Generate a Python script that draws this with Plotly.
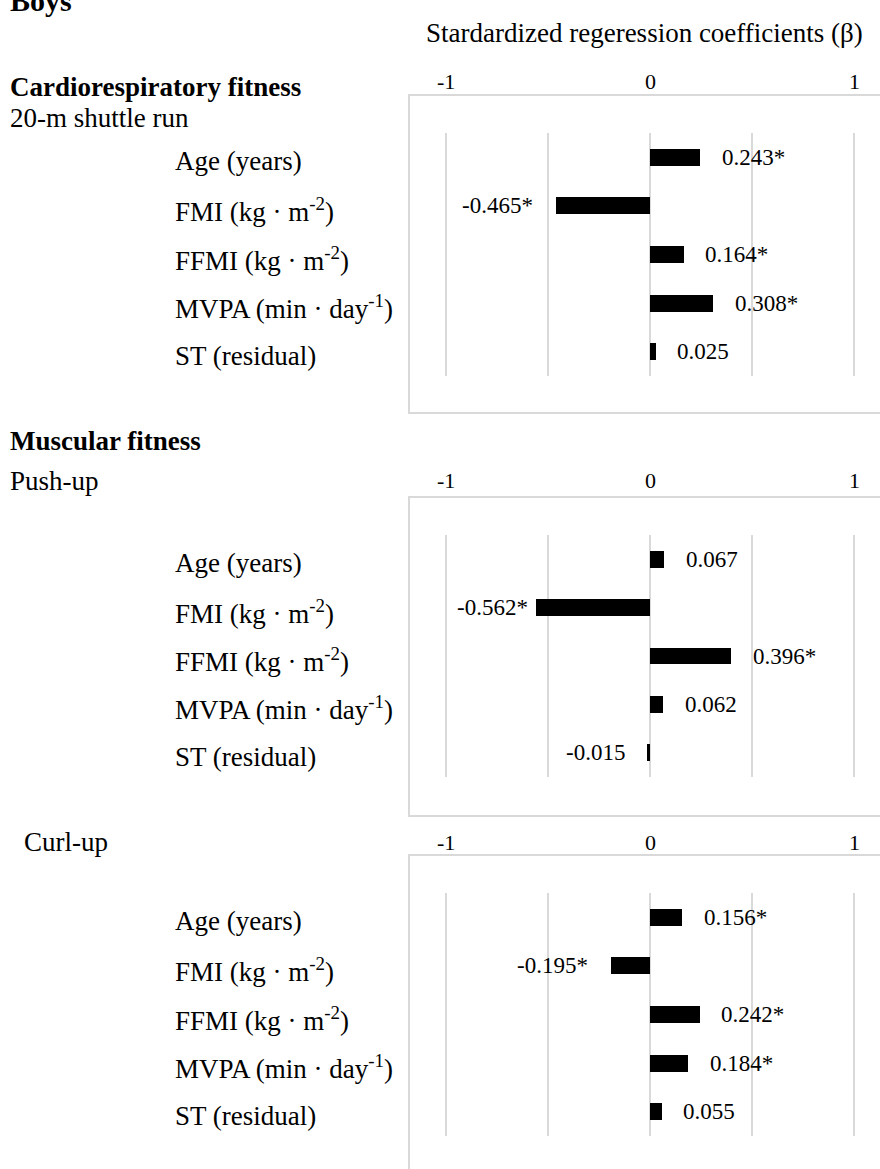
import plotly.graph_objects as go

# ---------------- data ----------------
cat_keys = ["Age", "FMI", "FFMI", "MVPA", "ST"]
cat_labels = ["Age (years)", "FMI (kg · m<sup>-2</sup>)", "FFMI (kg · m<sup>-2</sup>)",
              "MVPA (min · day<sup>-1</sup>)", "ST (residual)"]

shuttle_beta = [0.243, -0.465, 0.164, 0.308, 0.025]
shuttle_text = ["0.243*", "-0.465*", "0.164*", "0.308*", "0.025"]

pushup_beta = [0.067, -0.562, 0.396, 0.062, -0.015]
pushup_text = ["0.067", "-0.562*", "0.396*", "0.062", "-0.015"]

curlup_beta = [0.156, -0.195, 0.242, 0.184, 0.055]
curlup_text = ["0.156*", "-0.195*", "0.242*", "0.184*", "0.055"]

x_tick_vals = [-1, 0, 1]
x_tick_text = ["-1", "0", "1"]
grid_vals = [-1, -0.5, 0, 0.5, 1]

# ---------------- layout helpers ----------------
W, H = 880, 1169
FONT = "Liberation Serif"
GRID = "#d9d9d9"


def py(p):
    return 1 - p / H


def px(p):
    return p / W


X0, SCALE = 650, 204  # pixel of zero, pixels per unit
XR = 1.1
x_domain = [px(X0 - XR * SCALE), px(X0 + XR * SCALE)]

panels = [
    # data, texts, plot-area top/bottom px, box top/bottom px, tick label y px
    (shuttle_beta, shuttle_text, 133, 376, 95, 413, 82),
    (pushup_beta, pushup_text, 535, 777, 497, 816, 480),
    (curlup_beta, curlup_text, 893, 1136, 855, 1185, 842),
]

# label gap (px) from bar end; a manually nudged label in the original
label_gap = {(1, 1): 5}

fig = go.Figure()
annotations = []
shapes = []

for i, (vals, texts, top, bot, btop, bbot, tky) in enumerate(panels):
    n = "" if i == 0 else str(i + 1)
    xa, ya = "x" + n, "y" + n
    fig.add_trace(go.Bar(
        x=vals, y=cat_keys, orientation="h", width=0.35,
        marker=dict(color="black", line=dict(width=0)),
        xaxis=xa, yaxis=ya, hoverinfo="skip", showlegend=False,
    ))
    fig.layout["xaxis" + n] = dict(
        domain=x_domain, range=[-XR, XR], anchor=ya,
        tickmode="array", tickvals=grid_vals, showticklabels=False,
        showgrid=True, gridcolor=GRID, gridwidth=1.5, zeroline=False,
        showline=False, ticks="", fixedrange=True,
    )
    fig.layout["yaxis" + n] = dict(
        domain=[py(bot), py(top)], anchor=xa,
        type="category", categoryorder="array", categoryarray=cat_keys,
        autorange="reversed", showticklabels=False, showgrid=False,
        zeroline=False, showline=False, ticks="", fixedrange=True,
    )
    # chart-area border
    shapes.append(dict(type="rect", xref="paper", yref="paper",
                       x0=px(409), x1=1.05, y0=py(bbot), y1=py(btop),
                       line=dict(color=GRID, width=2), layer="below"))
    # tick labels above the box
    for tv, tt in zip(x_tick_vals, x_tick_text):
        annotations.append(dict(x=tv, xref=xa, y=py(tky), yref="paper",
                                text=tt, showarrow=False, xanchor="center",
                                yanchor="middle",
                                font=dict(family=FONT, size=22, color="black")))
    # category labels
    for k, lab in zip(cat_keys, cat_labels):
        annotations.append(dict(x=px(173), xref="paper", y=k, yref=ya,
                                text=lab, showarrow=False, xanchor="left",
                                yanchor="middle", yshift=-4,
                                font=dict(family=FONT, size=27, color="black")))
    # value labels
    for j, (k, v, t) in enumerate(zip(cat_keys, vals, texts)):
        gap = label_gap.get((i, j), 20)
        annotations.append(dict(x=v, xref=xa, y=k, yref=ya, text=t,
                                showarrow=False,
                                xanchor="left" if v >= 0 else "right",
                                xshift=gap if v >= 0 else -gap,
                                yanchor="middle",
                                font=dict(family=FONT, size=23, color="black")))

# section texts
def txt(text, x, y, size=27, bold=False, anchor="left"):
    if bold:
        text = "<b>" + text + "</b>"
    annotations.append(dict(x=px(x), xref="paper", y=py(y), yref="paper",
                            text=text, showarrow=False, xanchor=anchor,
                            yanchor="middle",
                            font=dict(family=FONT, size=size, color="black")))

txt("Boys", 8, 1, size=30, bold=True)
txt("Stardardized regeression coefficients (β)", 424, 33, size=27)
txt("Cardiorespiratory fitness", 8, 87, bold=True)
txt("20-m shuttle run", 8, 118)
txt("Muscular fitness", 8, 441, bold=True)
txt("Push-up", 8, 481)
txt("Curl-up", 22, 842)

fig.update_layout(
    width=W, height=H, margin=dict(l=0, r=0, t=0, b=0),
    paper_bgcolor="white", plot_bgcolor="white",
    annotations=annotations, shapes=shapes, bargap=0,
    font=dict(family=FONT, color="black"),
)

fig.write_html("out.html")
